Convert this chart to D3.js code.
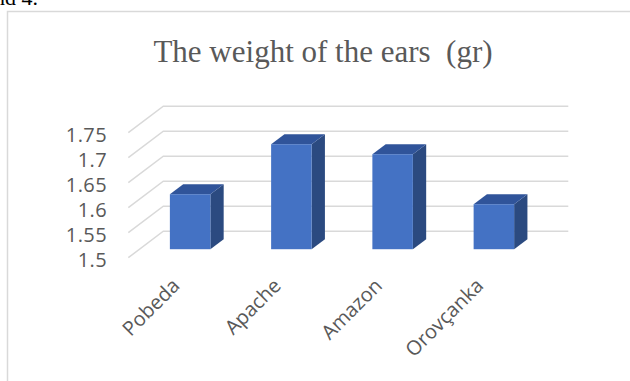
<!DOCTYPE html>
<html>
<head>
<meta charset="utf-8">
<script src="https://cdn.jsdelivr.net/npm/d3@7"></script>
<style>
  html, body { margin: 0; padding: 0; background: #fff; }
  svg { display: block; }
  text { white-space: pre; }
</style>
</head>
<body>
<svg id="chart" width="630" height="381"></svg>
<script>
const categories = ["Pobeda", "Apache", "Amazon", "Orovçanka"];
const weights = [1.61, 1.71, 1.69, 1.59];
const yTicks = [1.5, 1.55, 1.6, 1.65, 1.7, 1.75];
const tickLabels = ["1.5", "1.55", "1.6", "1.65", "1.7", "1.75"];
const title = "The weight of the ears  (gr)";

const svg = d3.select("#chart");
const W = 630, H = 381;

// clipped caption fragment above the chart frame
svg.append("text").attr("x", -6).attr("y", 5)
  .attr("font-family", "'Liberation Serif', 'Times New Roman', serif")
  .attr("font-size", 22).attr("fill", "#000").text("nd 4.");

// frame
svg.append("path")
  .attr("d", `M7.5,${H} L7.5,11.5 L${W},11.5`)
  .attr("fill", "none").attr("stroke", "#d9d9d9").attr("stroke-width", 1.5);

// title
svg.append("text").attr("x", 323).attr("y", 62)
  .attr("text-anchor", "middle")
  .attr("xml:space", "preserve")
  .attr("font-family", "'Liberation Serif', 'Times New Roman', serif")
  .attr("font-size", 31).attr("fill", "#595959").text(title);

// 3D geometry
const depthDX = 35, depthDY = -26.5;
const x = d3.scaleBand().domain(categories).range([128.3, 533.3])
  .paddingInner(0.6).paddingOuter(0.3);
const y = d3.scaleLinear().domain([1.5, 1.75]).range([257.7, 132.7]);
const x0 = 128.3, x1 = 533.3;

// gridlines (front-left diagonal + back wall line)
svg.append("g").selectAll("path").data(yTicks).join("path")
  .attr("d", t => `M${x0},${y(t)} L${x0 + depthDX},${y(t) + depthDY} L${x1 + depthDX},${y(t) + depthDY}`)
  .attr("fill", "none").attr("stroke", "#d9d9d9").attr("stroke-width", 1.5);

// tick labels
svg.append("g").selectAll("text").data(yTicks).join("text")
  .attr("x", 107).attr("y", t => y(t) + 9)
  .attr("text-anchor", "end")
  .attr("font-family", "'Open Sans', sans-serif")
  .attr("font-size", 20).attr("letter-spacing", 0.4).attr("fill", "#595959")
  .text((t, i) => tickLabels[i]);

// bars
const f0 = 0.32, f1 = 0.70;
const ox = depthDX * f0, oy = depthDY * f0;
const bx = depthDX * (f1 - f0), by = depthDY * (f1 - f0);
const bars = svg.append("g").selectAll("g").data(categories).join("g");
bars.each(function (c, i) {
  const g = d3.select(this);
  const left = x(c) + ox, right = left + x.bandwidth();
  const top = y(weights[i]) + oy, bottom = y(1.5) + oy;
  g.append("path")
    .attr("d", `M${right},${top} L${right + bx},${top + by} L${right + bx},${bottom + by} L${right},${bottom} Z`)
    .attr("fill", "#2b4a80");
  g.append("path")
    .attr("d", `M${left},${top} L${left + bx},${top + by} L${right + bx},${top + by} L${right},${top} Z`)
    .attr("fill", "#30549a");
  g.append("rect")
    .attr("x", left).attr("y", top)
    .attr("width", x.bandwidth()).attr("height", bottom - top)
    .attr("fill", "#4472c4");
});

// category labels
svg.append("g").selectAll("text").data(categories).join("text")
  .attr("transform", c => `translate(${x(c) + x.bandwidth() / 2 + 2},${287}) rotate(-45)`)
  .attr("text-anchor", "end")
  .attr("font-family", "'Open Sans', sans-serif")
  .attr("font-size", 20).attr("fill", "#595959")
  .text(c => c);
</script>
</body>
</html>
